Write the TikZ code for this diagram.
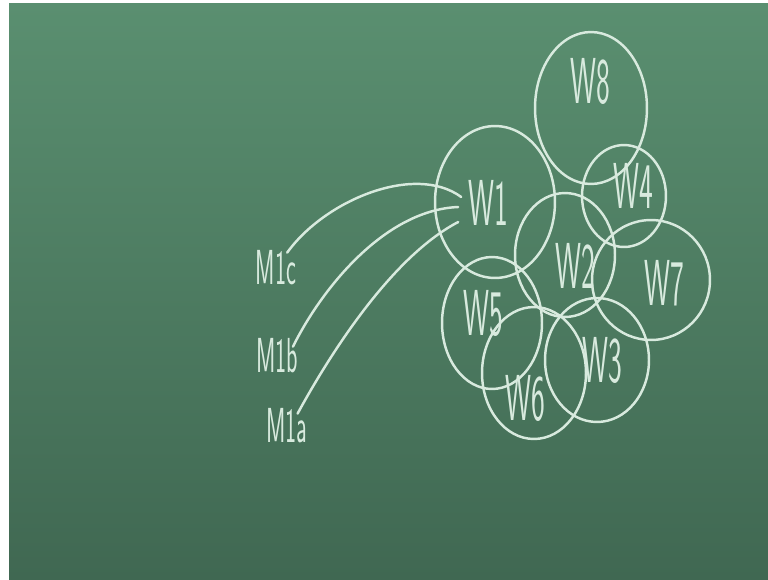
\documentclass[tikz,border=0pt]{standalone}
\usetikzlibrary{shapes.geometric}
\definecolor{board}{RGB}{90,143,112}
\definecolor{boardlow}{RGB}{64,104,82}
\definecolor{chalk}{RGB}{216,234,222}

\begin{document}
\begin{tikzpicture}[
    x=0.02cm, y=-0.02cm,
    set/.style={ellipse, draw=chalk, line width=1.4pt, inner sep=0pt},
    lab/.style={text=chalk, font=\sffamily\fontsize{37}{37}\selectfont,
                xscale=0.45, transform shape, inner sep=1pt},
    mlab/.style={text=chalk, font=\sffamily\fontsize{28}{28}\selectfont,
                 xscale=0.48, transform shape, inner sep=1pt},
    edge/.style={chalk, line width=1.4pt, line cap=round},
]
\useasboundingbox (0,0) rectangle (768,579);
% board
\fill[white] (0,0) rectangle (768,579);
\shade[top color=board, bottom color=boardlow] (9,3) rectangle (768,579);

% ---- the eight overlapping sets ----
\foreach \n/\x/\y/\rx/\ry in {8/591/108/56/76, 1/495/202/60/76,
        4/624/196/42/51, 2/565/255/50/62, 7/651/280/59/60,
        5/492/323/50/66, 6/534/373/52/66, 3/597/360/52/62} {
    \node[set, minimum width=\rx*0.04cm, minimum height=\ry*0.04cm]
        (e\n) at (\x,\y) {};
}
\node[lab] (w8) at (590,81) {W8};
\node[lab] (w1) at (488,203) {W1};
\node[lab] (w4) at (633,186) {W4};
\node[lab] (w2) at (575,266) {W2};
\node[lab] (w7) at (664,283) {W7};
\node[lab] (w5) at (483,313) {W5};
\node[lab] (w6) at (525,398) {W6};
\node[lab] (w3) at (602,360) {W3};

% ---- the three sources ----
\node[mlab] (m1c) at (276,268) {M1c};
\node[mlab] (m1b) at (277,356) {M1b};
\node[mlab] (m1a) at (287,426) {M1a};

\draw[edge] ([shift={(-10,4)}]m1c.north east) .. controls (325,200) and (415,163) .. ([shift={(-6,-6)}]w1.west);
\draw[edge] ([shift={(-6,10)}]m1b.north east) .. controls (322,288) and (385,210) .. ([shift={(-9,4)}]w1.west);
\draw[edge] ([shift={(-11,7)}]m1a.north east) .. controls (335,345) and (395,255) .. ([shift={(-9,19)}]w1.west);
\end{tikzpicture}
\end{document}
